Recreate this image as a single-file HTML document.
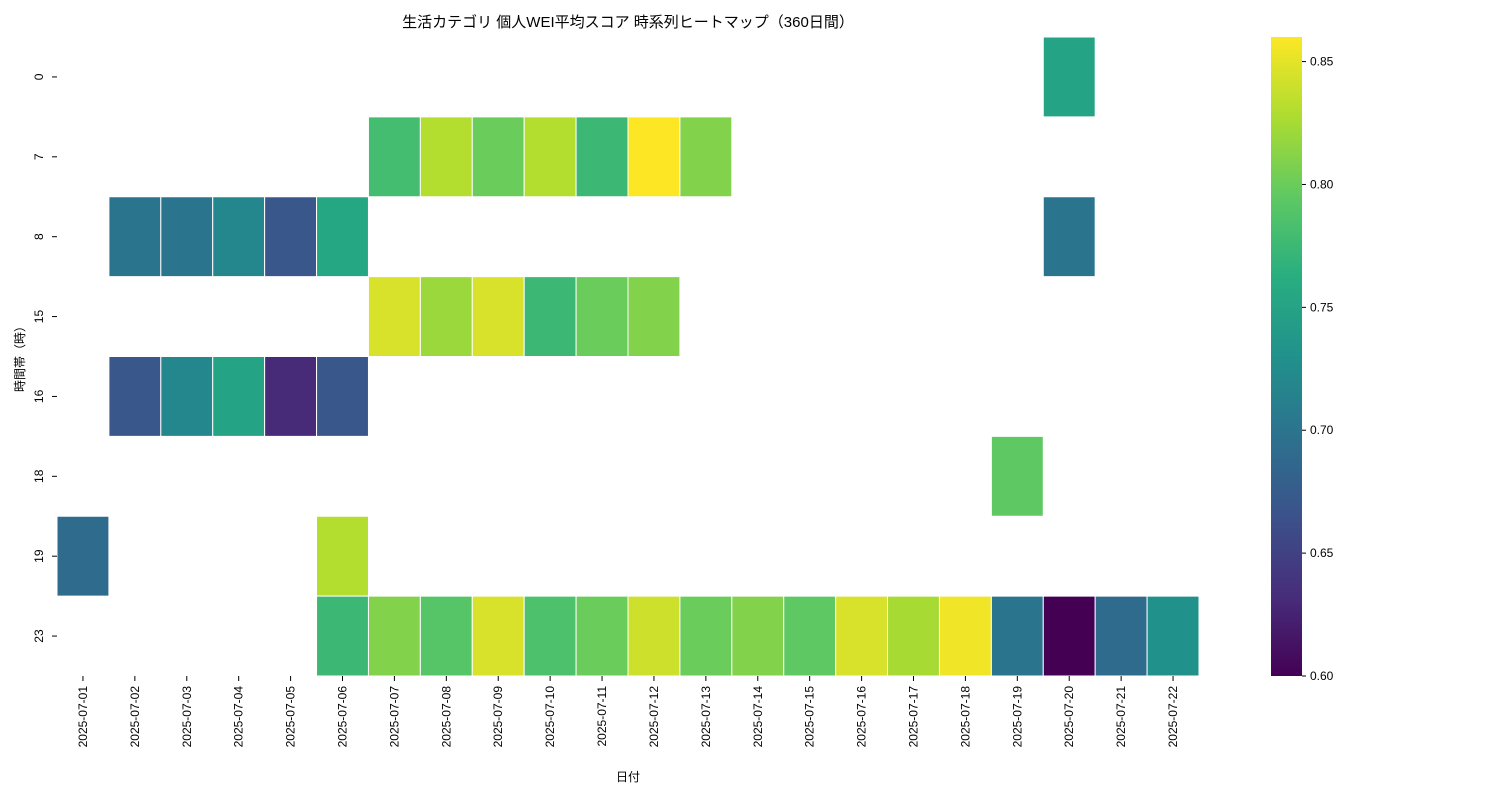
<!DOCTYPE html>
<html><head><meta charset="utf-8"><style>
body{margin:0;background:#fff;font-family:"Liberation Sans","Noto Sans CJK JP",sans-serif;}
text{font-family:"Liberation Sans","Noto Sans CJK JP",sans-serif;fill:#000;}
</style></head><body>
<svg id="chart" width="1500" height="800" xmlns="http://www.w3.org/2000/svg">
<defs><linearGradient id="vir" x1="0" y1="1" x2="0" y2="0">
<stop offset="0" stop-color="#440154"/><stop offset="0.125" stop-color="#472d7b"/><stop offset="0.25" stop-color="#3b528b"/><stop offset="0.375" stop-color="#2c728e"/><stop offset="0.5" stop-color="#21918c"/><stop offset="0.625" stop-color="#28ae80"/><stop offset="0.75" stop-color="#5ec962"/><stop offset="0.875" stop-color="#addc30"/><stop offset="1" stop-color="#fde725"/>
</linearGradient></defs>
<text x="628" y="27" font-size="15" text-anchor="middle">生活カテゴリ 個人WEI平均スコア 時系列ヒートマップ（360日間）</text>
<g id="cells"></g><g id="axes"></g>
<text x="628" y="781" font-size="12" text-anchor="middle">日付</text>
<text transform="translate(24,356) rotate(-90)" font-size="12" text-anchor="middle">時間帯（時）</text>
<rect x="1271" y="37" width="31" height="639" fill="url(#vir)"/>
<g id="cbar"></g>
</svg>
<script>
const dates=["2025-07-01","2025-07-02","2025-07-03","2025-07-04","2025-07-05","2025-07-06","2025-07-07","2025-07-08","2025-07-09","2025-07-10","2025-07-11","2025-07-12","2025-07-13","2025-07-14","2025-07-15","2025-07-16","2025-07-17","2025-07-18","2025-07-19","2025-07-20","2025-07-21","2025-07-22"];
const hours=["0","7","8","15","16","18","19","23"];
const cbTicks=[0.60,0.65,0.70,0.75,0.80,0.85];
const N=null;
const row0=[N,N,N,N,N,N,N,N,N,N,N,N,N,N,N,N,N,N,N,0.75,N,N];
const row7=[N,N,N,N,N,N,0.78,0.83,0.80,0.83,0.775,0.86,0.81,N,N,N,N,N,N,N,N,N];
const row8=[N,0.70,0.70,0.72,0.67,0.755,N,N,N,N,N,N,N,N,N,N,N,N,N,0.70,N,N];
const row15=[N,N,N,N,N,N,0.845,0.82,0.845,0.775,0.80,0.81,N,N,N,N,N,N,N,N,N,N];
const row16=[N,0.67,0.72,0.75,0.63,0.67,N,N,N,N,N,N,N,N,N,N,N,N,N,N,N,N];
const row18=[N,N,N,N,N,N,N,N,N,N,N,N,N,N,N,N,N,N,0.795,N,N,N];
const row19=[0.69,N,N,N,N,0.83,N,N,N,N,N,N,N,N,N,N,N,N,N,N,N,N];
const row23=[N,N,N,N,N,0.775,0.81,0.79,0.845,0.785,0.80,0.84,0.80,0.81,0.795,0.845,0.825,0.855,0.70,0.60,0.69,0.73];
const grid=[row0,row7,row8,row15,row16,row18,row19,row23];
const vmin=0.60,vmax=0.86;
const X0=57,X1=1199,Y0=37,Y1=676;
const cw=(X1-X0)/dates.length,ch=(Y1-Y0)/hours.length;
const xs=i=>X0+i*cw, ys=j=>Y0+j*ch;
const cbY=v=>Y1-(v-vmin)/(vmax-vmin)*(Y1-Y0);
const stops=[[68,1,84],[71,45,123],[59,82,139],[44,114,142],[33,145,140],[40,174,128],[94,201,98],[173,220,48],[253,231,37]];
function vir(v){let t=Math.max(0,Math.min(1,(v-vmin)/(vmax-vmin)))*8;let i=Math.min(7,Math.floor(t)),f=t-i;const a=stops[i],b=stops[i+1];return `rgb(${a.map((c,k)=>Math.round(c+(b[k]-c)*f)).join(',')})`;}
const NS="http://www.w3.org/2000/svg";
function mk(tag,attrs,parent,txt){const e=document.createElementNS(NS,tag);for(const k in attrs)e.setAttribute(k,attrs[k]);if(txt!=null)e.textContent=txt;parent.appendChild(e);return e;}
const cells=document.getElementById('cells'),axes=document.getElementById('axes'),cbar=document.getElementById('cbar');
grid.forEach((row,j)=>row.forEach((v,i)=>{if(v==null)return;
const r=mk('rect',{x:xs(i),y:ys(j),width:cw,height:ch,fill:vir(v),stroke:'#fff','stroke-width':1},cells);

}));
dates.forEach((d,i)=>{const cx=xs(i)+cw/2;
mk('line',{x1:cx,x2:cx,y1:Y1,y2:Y1+5,stroke:'#000'},axes);
const t=mk('text',{transform:`translate(${cx+4},${Y1+10}) rotate(-90)`,'font-size':12,'text-anchor':'end'},axes,d);

});
hours.forEach((h,j)=>{const cy=ys(j)+ch/2;
mk('line',{x1:X0-5,x2:X0,y1:cy,y2:cy,stroke:'#000'},axes);
const t=mk('text',{transform:`translate(${X0-14},${cy}) rotate(-90)`,'font-size':12,'text-anchor':'middle'},axes,h);

});
cbTicks.forEach(v=>{const y=cbY(v);
mk('line',{x1:1302,x2:1306,y1:y,y2:y,stroke:'#000'},cbar);
const t=mk('text',{x:1310,y:y+4,'font-size':12},cbar,v.toFixed(2));

});
</script>
</body></html>
